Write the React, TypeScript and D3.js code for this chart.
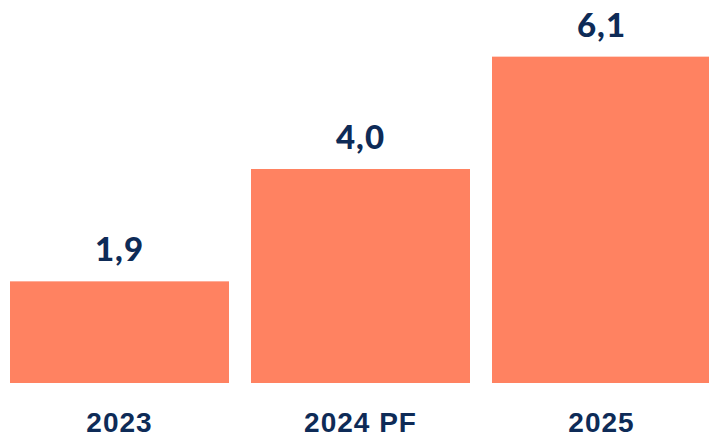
import React, { useEffect, useRef } from 'react'
import * as d3 from 'd3'

const categories = ['2023', '2024 PF', '2025']
const values = [1.9, 4.0, 6.1]
const valueLabels = ['1,9', '4,0', '6,1']

const App = () => {
  const refSvg = useRef<SVGSVGElement>(null)
  const width = 709
  const height = 438

  useEffect(() => {
    const svg = d3.select(refSvg.current)
    svg.selectAll('*').remove()

    const x = d3.scaleBand<string>().domain(categories).range([10, 711]).paddingInner(22 / 241).paddingOuter(0)
    const y = d3.scaleLinear().domain([0, 7]).range([383, 8.5])

    const data = categories.map((c, i) => ({ c, v: values[i], label: valueLabels[i] }))

    svg
      .selectAll('.bar')
      .data(data)
      .enter()
      .append('rect')
      .attr('class', 'bar')
      .attr('fill', '#FF8261')
      .attr('x', (d) => x(d.c) || 0)
      .attr('width', x.bandwidth())
      .attr('y', (d) => y(d.v))
      .attr('height', (d) => y(0) - y(d.v))

    // value labels
    svg
      .selectAll('.val')
      .data(data)
      .enter()
      .append('text')
      .attr('class', 'val')
      .attr('x', (d) => (x(d.c) || 0) + x.bandwidth() / 2)
      .attr('y', (d) => y(d.v) - 20)
      .attr('text-anchor', 'middle')
      .attr('fill', '#0E2B57')
      .style('font-family', 'Lato, "Open Sans", sans-serif')
      .style('font-weight', 900)
      .style('font-size', '33px')
      .style('letter-spacing', '1px')
      .text((d) => d.label)

    // category labels
    svg
      .selectAll('.cat')
      .data(data)
      .enter()
      .append('text')
      .attr('class', 'cat')
      .attr('x', (d) => (x(d.c) || 0) + x.bandwidth() / 2)
      .attr('y', 432)
      .attr('text-anchor', 'middle')
      .attr('fill', '#0E2B57')
      .style('font-family', '"Liberation Sans", Arial, sans-serif')
      .style('font-weight', 700)
      .style('font-size', '28px')
      .style('letter-spacing', '1px')
      .text((d) => d.c)
  }, [])

  return (
    <svg
      ref={refSvg}
      width={width}
      height={height}
      style={{ position: 'absolute', left: 0, top: 0, background: '#fff' }}
    />
  )
}

export default App
